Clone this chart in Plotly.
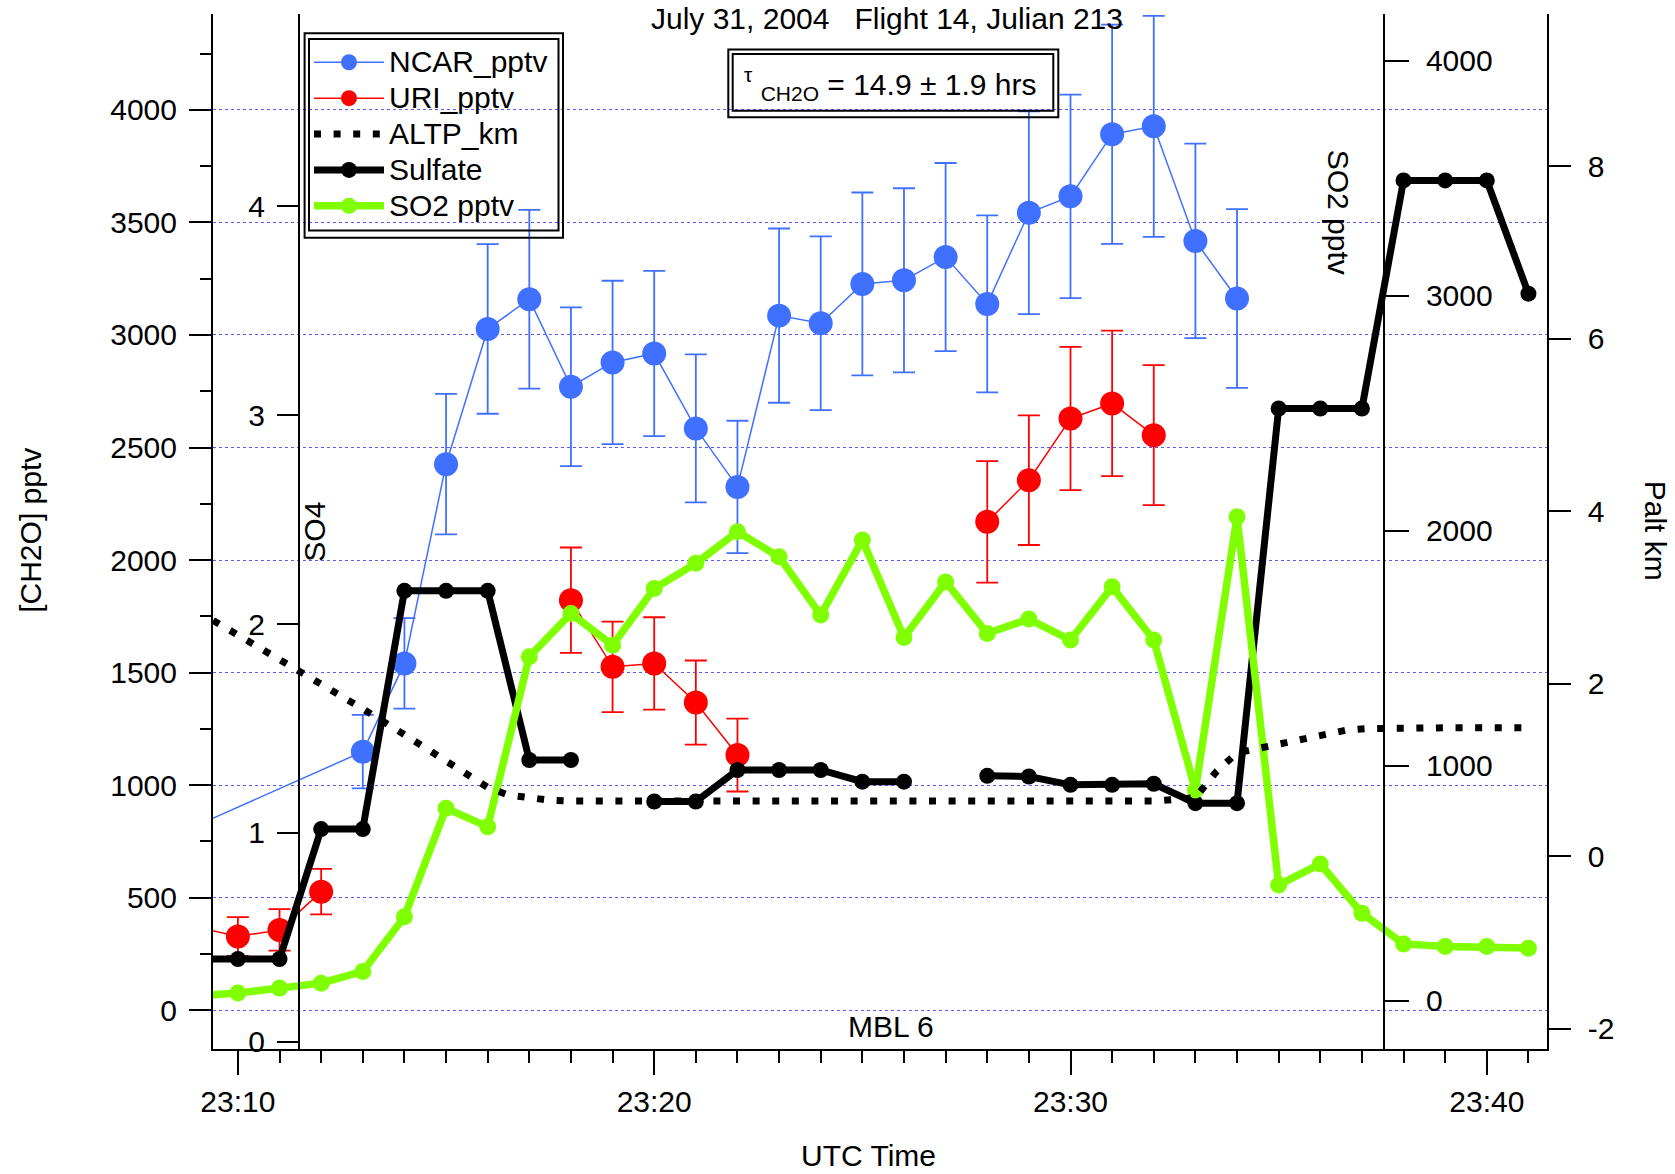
import plotly.graph_objects as go

# ---------------- data (minutes after 23:00 UTC, July 31 2004) ----------------
DAY = "2004-07-31"

ncar_min = [9, 13, 14, 15, 16, 17, 18, 19, 20, 21, 22, 23, 24, 25, 26, 27, 28, 29, 30, 31, 32, 33, 34]
ncar_pptv = [820, 1149, 1541, 2426, 3027, 3159, 2770, 2878, 2918, 2585, 2325, 3086, 3052, 3227,
             3243, 3346, 3138, 3543, 3616, 3892, 3927, 3418, 3162]
ncar_err = [160, 163, 201, 312, 377, 397, 353, 363, 367, 329, 294, 387, 386, 406,
            409, 418, 393, 450, 452, 487, 491, 432, 397]

uri_min = [9, 10, 11, 12, 13, 18, 19, 20, 21, 22, 23, 28, 29, 30, 31, 32]
uri_pptv = [371, 328, 357, 527, None, 1822, 1526, 1541, 1367, 1134, None, 2170, 2355, 2629, 2696, 2555]
uri_err = [85, 86, 92, 101, None, 234, 201, 205, 187, 162, None, 270, 288, 318, 323, 311]

altp_min = [9, 10, 11, 12, 13, 14, 15, 16, 16.5, 17, 17.5, 18, 20, 22, 24, 26, 28, 30, 32,
            33, 33.5, 34, 34.6, 35.1, 35.6, 36.1, 36.6, 37.1, 38, 39, 40, 41]
altp_km = [2.85, 2.57, 2.28, 1.99, 1.71, 1.41, 1.10, 0.80, 0.71, 0.67, 0.65, 0.64, 0.64, 0.64,
           0.64, 0.64, 0.64, 0.64, 0.64, 0.68, 0.98, 1.20, 1.26, 1.31, 1.37, 1.42, 1.46, 1.48,
           1.49, 1.49, 1.49, 1.49]

so_min = list(range(9, 42))
sulfate = [0.396, 0.396, 0.396, 1.018, 1.018, 2.159, 2.159, 2.159, 1.349, 1.349, None, 1.15, 1.15,
           1.301, 1.301, 1.301, 1.245, 1.245, None, 1.273, 1.27, 1.23, 1.23, 1.235, 1.142, 1.142,
           3.032, 3.032, 3.032, 4.124, 4.124, 4.124, 3.582]
so2_pptv = [21, 33, 54, 75, 125, 358, 819, 741, 1464, 1648, 1513, 1754, 1861, 1995, 1889, 1641,
            1960, 1546, 1782, 1563, 1624, 1535, 1761, 1535, 897, 2059, 493, 582, 373, 242, 231,
            231, 224]

palt_tickvals = [-2, 0, 2, 4, 6, 8]
palt_ticktext = ["-2", "0", "2", "4", "6", "8"]

legend_names = ["NCAR_pptv", "URI_pptv", "ALTP_km", "Sulfate", "SO2 pptv"]
x_title = "UTC Time"


def stamp(m):
    total = m * 60.0
    mm = int(total // 60)
    ss = total - mm * 60
    return f"{DAY} 23:{mm:02d}:{ss:06.3f}"


# ---------------- style ----------------
FONT = "Liberation Sans, Arial, sans-serif"
BLUE = "#4070ff"
RED = "#ff0000"
GREEN = "#80ff00"
BLACK = "#000000"
GRID = "#5a5aff"

L, R, T, B = 213, 1547, 14, 1049  # plot area in pixels


def pxx(x):
    return (x - L) / (R - L)


def pxy(y):
    return (B - y) / (B - T)


def lname(s):
    return f'<span style="font-size:30px">{s}</span>'


fig = go.Figure()

fig.add_trace(go.Scatter(
    x=[stamp(m) for m in ncar_min], y=ncar_pptv, name=lname(legend_names[0]),
    mode="lines+markers", line=dict(color=BLUE, width=1.5),
    marker=dict(color=BLUE, size=24),
    error_y=dict(type="data", array=ncar_err, color=BLUE, thickness=1.8, width=11),
    yaxis="y"))

fig.add_trace(go.Scatter(
    x=[stamp(m) for m in uri_min], y=uri_pptv, name=lname(legend_names[1]),
    mode="lines+markers", line=dict(color=RED, width=1.5),
    marker=dict(color=RED, size=24),
    error_y=dict(type="data", array=uri_err, color=RED, thickness=1.8, width=11),
    yaxis="y"))

fig.add_trace(go.Scatter(
    x=[stamp(m) for m in altp_min], y=altp_km, name=lname(legend_names[2]),
    mode="lines", line=dict(color=BLACK, width=7, dash="7px,12.6px"),
    yaxis="y4"))

fig.add_trace(go.Scatter(
    x=[stamp(m) for m in so_min], y=sulfate, name=lname(legend_names[3]),
    mode="lines+markers", line=dict(color=BLACK, width=7),
    marker=dict(color=BLACK, size=16), yaxis="y2"))

fig.add_trace(go.Scatter(
    x=[stamp(m) for m in so_min], y=so2_pptv, name=lname(legend_names[4]),
    mode="lines+markers", line=dict(color=GREEN, width=7.5),
    marker=dict(color=GREEN, size=17), yaxis="y3"))

x_range = [stamp(9.402), stamp(41.446)]
tick_font = dict(family=FONT, size=30, color=BLACK)

fig.update_layout(
    width=1675, height=1174, autosize=False,
    margin=dict(l=L, r=1675 - R, t=T, b=1174 - B, pad=0),
    paper_bgcolor="white", plot_bgcolor="rgba(0,0,0,0)",
    font=dict(family=FONT, size=30, color=BLACK),
    showlegend=True,
    legend=dict(x=pxx(309), y=pxy(39.3), xanchor="left", yanchor="top",
                bgcolor="rgba(0,0,0,0)", borderwidth=0,
                font=dict(family=FONT, size=25.3, color=BLACK),
                itemwidth=70, tracegroupgap=0),
    xaxis=dict(type="date", range=x_range, domain=[0, 1], anchor="y",
               showline=True, linecolor=BLACK, linewidth=2, mirror=False,
               ticks="outside", ticklen=24, tickwidth=2, tickcolor=BLACK,
               tick0=f"{DAY} 23:00:00", dtick=600000, tickformat="%H:%M",
               tickfont=tick_font, ticklabelstandoff=1,
               minor=dict(dtick=60000, tick0=f"{DAY} 23:00:00", ticks="outside",
                          ticklen=12.3, tickwidth=2, tickcolor=BLACK, showgrid=False),
               showgrid=False, zeroline=False),
    xaxis2=dict(type="date", range=x_range, overlaying="x", anchor="y", side="bottom",
                showline=False, ticks="outside", ticklen=17.3, tickwidth=2, tickcolor=BLACK,
                tick0=f"{DAY} 23:00:00", dtick=300000, showticklabels=False,
                showgrid=False, zeroline=False),
    yaxis=dict(range=[-172, 4426], tick0=0, dtick=500,
               showline=True, linecolor=BLACK, linewidth=2,
               ticks="outside", ticklen=22, tickwidth=2, tickcolor=BLACK,
               tickfont=tick_font, ticklabelstandoff=6,
               minor=dict(dtick=250, ticks="outside", ticklen=10.7, tickwidth=2,
                          tickcolor=BLACK, showgrid=False),
               showgrid=True, gridcolor=GRID, gridwidth=1.2, griddash="dot",
               zeroline=False),
    yaxis2=dict(range=[-0.035, 4.921], tick0=0, dtick=1, overlaying="y",
                anchor="free", position=pxx(299.3), side="left",
                showline=True, linecolor=BLACK, linewidth=2,
                ticks="outside", ticklen=21.4, tickwidth=2, tickcolor=BLACK,
                tickfont=tick_font, ticklabelstandoff=6,
                showgrid=False, zeroline=False),
    yaxis3=dict(range=[-205, 4198], tick0=0, dtick=1000, overlaying="y",
                anchor="free", position=pxx(1384.3), side="right",
                showline=True, linecolor=BLACK, linewidth=2,
                ticks="outside", ticklen=23.6, tickwidth=2, tickcolor=BLACK,
                tickfont=tick_font, ticklabelstandoff=11,
                showgrid=False, zeroline=False),
    yaxis4=dict(range=[-2.233, 9.763], tickmode="array", tickvals=palt_tickvals,
                ticktext=palt_ticktext, overlaying="y",
                anchor="x", side="right",
                showline=True, linecolor=BLACK, linewidth=2,
                ticks="outside", ticklen=21.8, tickwidth=2, tickcolor=BLACK,
                tickfont=tick_font, ticklabelstandoff=11,
                showgrid=False, zeroline=False),
)

annotations = [
    dict(text="July 31, 2004\u00a0\u00a0\u00a0Flight 14, Julian 213", x=pxx(887), y=pxy(18),
         xanchor="center", yanchor="middle"),
    dict(text="[CH2O] pptv", x=pxx(31), y=pxy(530.8), textangle=-90,
         xanchor="center", yanchor="middle"),
    dict(text="SO4", x=pxx(315), y=pxy(531.7), textangle=-90,
         xanchor="center", yanchor="middle"),
    dict(text="SO2 pptv", x=pxx(1338), y=pxy(211.7), textangle=90,
         xanchor="center", yanchor="middle"),
    dict(text="Palt km", x=pxx(1655), y=pxy(530.7), textangle=90,
         xanchor="center", yanchor="middle"),
    dict(text="MBL 6", x=pxx(890.8), y=pxy(1026.7), xanchor="center", yanchor="middle"),
    dict(text=x_title, x=pxx(868.9), y=pxy(1155), xanchor="center", yanchor="middle"),
    dict(text="<sup>\u03c4</sup> <sub>CH2O</sub> = 14.9 \u00b1 1.9 hrs", x=pxx(890),
         y=pxy(83.9), xanchor="center", yanchor="middle"),
]
for a in annotations:
    a.update(xref="paper", yref="paper", showarrow=False)
fig.update_layout(annotations=annotations)

boxes = [
    (304.6, 33.3, 563.0, 237.7),
    (309.0, 39.0, 558.5, 230.5),
    (728.3, 49.5, 1058.3, 117.3),
    (732.7, 54.0, 1053.3, 110.7),
]
fig.update_layout(shapes=[
    dict(type="rect", xref="paper", yref="paper",
         x0=pxx(x0), x1=pxx(x1), y0=pxy(y1), y1=pxy(y0),
         line=dict(color=BLACK, width=2), fillcolor="rgba(0,0,0,0)", layer="above")
    for (x0, y0, x1, y1) in boxes
])

fig.write_html("out.html")
